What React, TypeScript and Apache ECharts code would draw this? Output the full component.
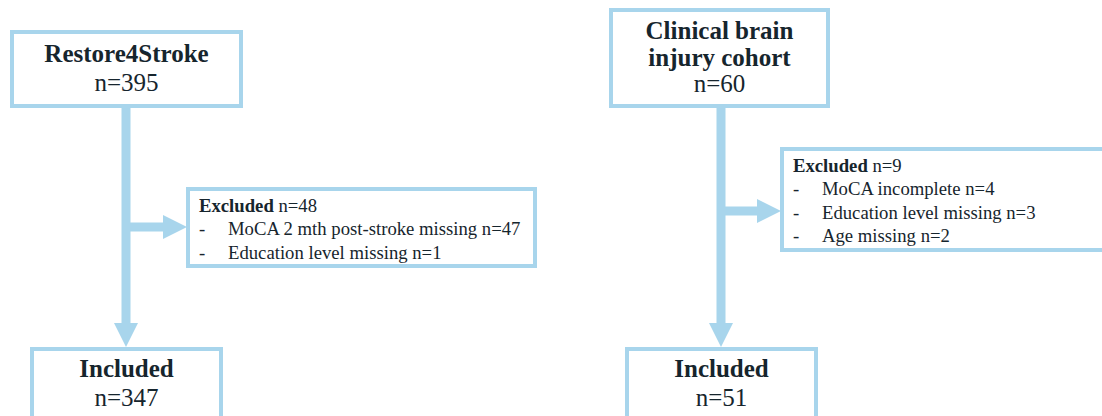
import React, { useEffect, useRef } from "react";
import * as echarts from "echarts";

// ---- content ----
const cohortTitles = [["Restore4Stroke"], ["Clinical brain", "injury cohort"]];
const cohortTotals = [395, 60];
const excludedTotals = [48, 9];
const excludedReasons = [
  ["MoCA 2 mth post-stroke missing n=47", "Education level missing n=1"],
  ["MoCA incomplete n=4", "Education level missing n=3", "Age missing n=2"],
];
const includedLabel = "Included";
const excludedLabel = "Excluded";
const includedTotals = [347, 51];

// ---- layout (outer edges of boxes) ----
const LAYOUT = [
  {
    top: { x0: 10, y0: 30, x1: 243, y1: 108 },
    excl: { x0: 186, y0: 187, x1: 537, y1: 268 },
    incl: { x0: 30, y0: 347, x1: 223, y1: 440 },
    stemX: 126,
    branchY: 227,
    titleLH: 29,
  },
  {
    top: { x0: 609, y0: 8, x1: 830, y1: 108 },
    excl: { x0: 780, y0: 147, x1: 1120, y1: 252 },
    incl: { x0: 625, y0: 347, x1: 818, y1: 440 },
    stemX: 721,
    branchY: 211,
    titleLH: 26.5,
  },
];

const BORDER = "#a8d5ec";
const ARROW = "#a8d5ec";
const TEXT = "#16252d";
const FONT = "Liberation Serif";
const TITLE_SIZE = 25;
const BODY_SIZE = 18.7;

function box(b: { x0: number; y0: number; x1: number; y1: number }) {
  const lw = 4;
  return {
    type: "rect",
    shape: { x: b.x0 + lw / 2, y: b.y0 + lw / 2, width: b.x1 - b.x0 - lw, height: b.y1 - b.y0 - lw },
    style: { fill: "#ffffff", stroke: BORDER, lineWidth: lw },
    z: 2,
  };
}

function txt(text: string, x: number, y: number, size: number, bold: boolean, align = "center") {
  return {
    type: "text",
    x,
    y,
    style: {
      text,
      fill: TEXT,
      fontFamily: FONT,
      fontSize: size,
      fontWeight: bold ? "bold" : "normal",
      textAlign: align,
      textVerticalAlign: "middle",
    },
    z: 5,
  };
}

function buildGraphics() {
  const els: any[] = [];
  LAYOUT.forEach((L, i) => {
    const sw = 9;
    els.push({
      type: "rect",
      shape: { x: L.stemX - sw / 2, y: L.top.y1 - 2, width: sw, height: 324 - L.top.y1 + 2 },
      style: { fill: ARROW },
      z: 1,
    });
    els.push({
      type: "polygon",
      shape: { points: [[L.stemX - 12, 323], [L.stemX + 12, 323], [L.stemX, 347]] },
      style: { fill: ARROW },
      z: 1,
    });
    const headBase = L.excl.x0 - 23;
    els.push({
      type: "rect",
      shape: { x: L.stemX, y: L.branchY - 4.5, width: headBase - L.stemX + 1, height: 9 },
      style: { fill: ARROW },
      z: 1,
    });
    els.push({
      type: "polygon",
      shape: { points: [[headBase, L.branchY - 12], [L.excl.x0 + 1, L.branchY], [headBase, L.branchY + 12]] },
      style: { fill: ARROW },
      z: 1,
    });
    els.push(box(L.top));
    els.push(box(L.excl));
    els.push(box(L.incl));

    const cx = (L.top.x0 + L.top.x1) / 2;
    const lines = cohortTitles[i];
    const lh = L.titleLH;
    const n = lines.length + 1;
    const midY = (L.top.y0 + L.top.y1) / 2 - 1;
    const startY = midY - ((n - 1) * lh) / 2;
    lines.forEach((ln, k) => els.push(txt(ln, cx, startY + k * lh, TITLE_SIZE, true)));
    els.push(txt("n=" + cohortTotals[i], cx, startY + lines.length * lh, TITLE_SIZE, false));

    const ex = L.excl.x0 + 13;
    const ey = L.excl.y0 + 18;
    const elh = 23.5;
    els.push({
      type: "text",
      x: ex,
      y: ey,
      style: {
        text: "{b|" + excludedLabel + "} {r|n=" + excludedTotals[i] + "}",
        rich: {
          b: { fontFamily: FONT, fontSize: BODY_SIZE, fontWeight: "bold", fill: TEXT },
          r: { fontFamily: FONT, fontSize: BODY_SIZE, fontWeight: "normal", fill: TEXT },
        },
        fill: TEXT,
        fontFamily: FONT,
        fontSize: BODY_SIZE,
        textAlign: "left",
        textVerticalAlign: "middle",
      },
      z: 5,
    });
    excludedReasons[i].forEach((r, k) => {
      const y = ey + (k + 1) * elh;
      els.push(txt("-", ex, y, BODY_SIZE, false, "left"));
      els.push(txt(r, ex + 29, y, BODY_SIZE, false, "left"));
    });

    const ix = (L.incl.x0 + L.incl.x1) / 2;
    els.push(txt(includedLabel, ix, 368, TITLE_SIZE, true));
    els.push(txt("n=" + includedTotals[i], ix, 397, TITLE_SIZE, false));
  });
  return els;
}

export default function App() {
  const ref = useRef<HTMLDivElement>(null);
  useEffect(() => {
    if (!ref.current) return;
    const chart = echarts.init(ref.current, undefined, { renderer: "svg" });
    chart.setOption({
      animation: false,
      backgroundColor: "#ffffff",
      graphic: { elements: buildGraphics() },
    });
    return () => chart.dispose();
  }, []);
  return (
    <div
      ref={ref}
      style={{ position: "fixed", left: 0, top: 0, width: 1102, height: 416, background: "#fff" }}
    />
  );
}
